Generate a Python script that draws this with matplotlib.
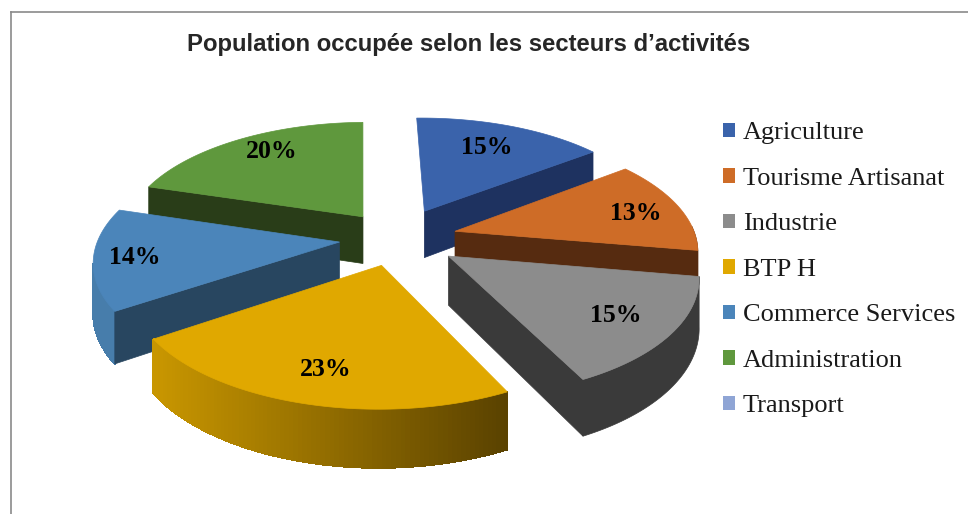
import numpy as np
import matplotlib
matplotlib.use("Agg")
import matplotlib.pyplot as plt
from matplotlib.patches import Patch

# =========================
# data
# =========================
labels = ["Agriculture", "Tourisme Artisanat", "Industrie", "BTP H",
          "Commerce Services", "Administration", "Transport"]
values = [15, 13, 15, 23, 14, 20, 0]
colors = ["#3A63AB", "#CE6C27", "#8C8C8C", "#E0A800", "#4B85BA", "#5F983D", "#8FA5D5"]
side_colors = ["#1E3260", "#562B10", "#3A3A3A", "#5E4600", "#284660", "#293D18", "#475270"]
title = "Population occupée selon les secteurs d’activités"

# =========================
# fake 3D projection
# =========================
cx, cy = 397, 238
rx, ry = 241, 114
depth = 48
persp = 0.146
explode = [0.27, 0.25, 0.26, 0.24, 0.24, 0.24, 0.24]
start_deg = -1.2


def project(u, v, z=0):
    w = 1 + persp * v
    return cx + rx * u / w, cy - ry * v / w + depth * z / w


fig = plt.figure(figsize=(9.68, 5.14), dpi=100)
ax = fig.add_axes([0, 0, 1, 1])
ax.set_xlim(0, 968)
ax.set_ylim(514, 0)
ax.axis("off")

# cadre
ax.plot([11, 11], [514, 12], color="#8A8A8A", lw=1.2)
ax.plot([11, 968], [12, 12], color="#8A8A8A", lw=1.2)

total = sum(values)
edges = np.concatenate([[0], np.cumsum(values)]) / total * 2 * np.pi + np.radians(start_deg)


def arc_side(i, ox, oy, th):
    th = th[np.cos(th) < 0.05]
    if len(th) < 2:
        return
    top = [project(ox + np.sin(t), oy + np.cos(t)) for t in th]
    bottom = [project(ox + np.sin(t), oy + np.cos(t), 1) for t in th]
    if labels[i] in ("BTP H", "Commerce Services"):
        # bande par bande, on s'arrete au point le plus a gauche de l'arc
        stop = int(np.argmin([p[0] for p in top]))
        c0, c1 = np.array([200, 150, 0]), np.array([90, 66, 0])
        for j in range(stop):
            xs, ys = zip(top[j], top[j + 1], bottom[j + 1], bottom[j])
            if labels[i] == "BTP H":
                t = np.clip((xs[0] - 157) / 350, 0, 1)
                col = tuple((c0 + (c1 - c0) * t) / 255)
            else:
                col = "#477DAB"
            ax.fill(xs, ys, color=col, lw=0.8, antialiased=False)
        return
    xs, ys = zip(*(top + bottom[::-1]))
    ax.fill(xs, ys, color=side_colors[i], lw=0.5)


def draw_wedge(i):
    a0, a1 = edges[i], edges[i + 1]
    mid = (a0 + a1) / 2
    ox, oy = explode[i] * np.sin(mid), explode[i] * np.cos(mid)
    th = np.linspace(a0, a1, 90)

    arc_side(i, ox, oy, th)

    # faces radiales visibles
    for ang, nrm in ((a0, a0 - np.pi / 2), (a1, a1 + np.pi / 2)):
        if np.cos(nrm) < -0.1:
            ue, ve = ox + np.sin(ang), oy + np.cos(ang)
            p = [project(ox, oy), project(ue, ve), project(ue, ve, 1), project(ox, oy, 1)]
            xs, ys = zip(*p)
            ax.fill(xs, ys, color=side_colors[i], lw=0.5)

    # dessus
    pts = [project(ox, oy)] + [project(ox + np.sin(t), oy + np.cos(t)) for t in th]
    xs, ys = zip(*pts)
    ax.fill(xs, ys, color=colors[i], lw=0.5)


# ordre de dessin : du fond vers l'avant
for i in [5, 0, 4, 1, 2, 3]:
    draw_wedge(i)

# etiquettes
label_pos = [(487, 148), (636, 213), (616, 316), (326, 369), (135, 257), (272, 152)]
for (x, y), val in zip(label_pos, values):
    ax.text(x, y, f"{val}%", ha="center", va="center", color="black",
            family="Liberation Serif", fontweight="bold", fontsize=18.5)

ax.text(469, 44, title, ha="center", va="center", color="#262626",
        family="Liberation Sans", fontweight="bold", fontsize=17.2)

handles = [Patch(facecolor=c, edgecolor="none") for c in colors]
ax.legend(handles, labels, loc="upper left", bbox_to_anchor=(723, 122.5), bbox_transform=ax.transData,
          frameon=False, prop={"family": "Liberation Serif", "size": 19},
          handlelength=0.46, handleheight=0.46, handletextpad=0.3, labelspacing=0.89,
          borderpad=0, borderaxespad=0, labelcolor="#1A1A1A")

plt.savefig("out.png", dpi=100)
